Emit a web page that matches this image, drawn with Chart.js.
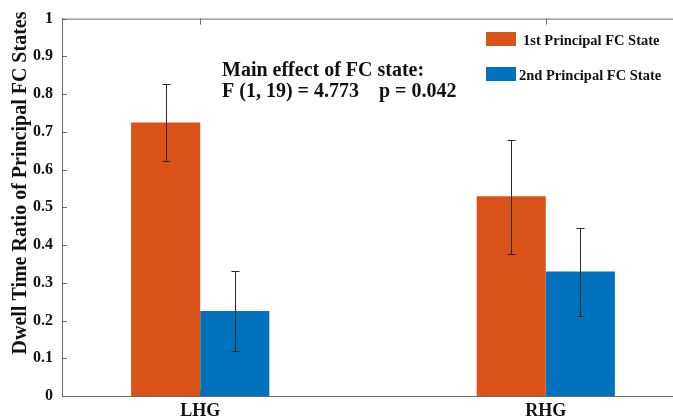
<!DOCTYPE html>
<html>
<head>
<meta charset="utf-8">
<script src="https://cdn.jsdelivr.net/npm/chart.js@4.4.1/dist/chart.umd.min.js"></script>
<style>
  html, body { margin: 0; padding: 0; background: #fff; overflow: hidden; }
  #wrap { position: relative; width: 690px; height: 420px; }
</style>
</head>
<body>
<div id="wrap"><canvas id="chart"></canvas></div>
<script>
// groups along x (MATLAB-style positions 1 and 2, xlim 0.6..2.4)
const groups = ['LHG', 'RHG'];
const groupPos = [1, 2];

const firstState = [0.725, 0.529];
const firstLow = [0.623, 0.377];
const firstHigh = [0.827, 0.678];

const secondState = [0.225, 0.330];
const secondLow = [0.120, 0.212];
const secondHigh = [0.330, 0.445];

const yTicks = [0, 0.1, 0.2, 0.3, 0.4, 0.5, 0.6, 0.7, 0.8, 0.9, 1];

const seriesNames = ['1st Principal FC State', '2nd Principal FC State'];
const seriesColors = ['#D95319', '#0072BD'];
const annotation = ['Main effect of FC state:', 'F (1, 19) = 4.773    p = 0.042'];
const yTitle = 'Dwell Time Ratio of Principal FC States';

const serif = '"Liberation Serif", "Times New Roman", serif';
const axisColor = '#6c6c6c';

const errors = [
  { low: firstLow, high: firstHigh },
  { low: secondLow, high: secondHigh }
];

const toPoints = vals => vals.map((v, i) => ({ x: groupPos[i], y: v }));

// inward ticks, top box line, error bars, legend and text
const decorations = {
  id: 'decorations',
  beforeDatasetsDraw(chart) {
    const { ctx, chartArea, scales } = chart;
    ctx.save();
    ctx.strokeStyle = axisColor;
    ctx.lineWidth = 1;
    ctx.beginPath();
    // top box line
    ctx.moveTo(chartArea.left, chartArea.top + 0.5);
    ctx.lineTo(chartArea.right, chartArea.top + 0.5);
    // y ticks pointing inward
    yTicks.forEach(v => {
      const y = Math.round(scales.y.getPixelForValue(v)) + 0.5;
      ctx.moveTo(chartArea.left, y);
      ctx.lineTo(chartArea.left + 5, y);
    });
    // x ticks on top and bottom, pointing inward
    groupPos.forEach(v => {
      const x = Math.round(scales.x.getPixelForValue(v)) + 0.5;
      ctx.moveTo(x, chartArea.top);
      ctx.lineTo(x, chartArea.top + 6);
      ctx.moveTo(x, chartArea.bottom);
      ctx.lineTo(x, chartArea.bottom - 6);
    });
    ctx.stroke();
    ctx.restore();
  },
  afterDatasetsDraw(chart) {
    const { ctx, scales } = chart;
    ctx.save();
    ctx.strokeStyle = '#2a2a2a';
    ctx.lineWidth = 1;
    errors.forEach((err, di) => {
      const meta = chart.getDatasetMeta(di);
      meta.data.forEach((bar, i) => {
        const x = Math.round(bar.x) + 0.5;
        const yl = Math.round(scales.y.getPixelForValue(err.low[i])) + 0.5;
        const yh = Math.round(scales.y.getPixelForValue(err.high[i])) + 0.5;
        ctx.beginPath();
        ctx.moveTo(x, yl); ctx.lineTo(x, yh);
        ctx.moveTo(x - 4, yl); ctx.lineTo(x + 4, yl);
        ctx.moveTo(x - 4, yh); ctx.lineTo(x + 4, yh);
        ctx.stroke();
      });
    });
    ctx.restore();
  },
  afterDraw(chart) {
    const { ctx } = chart;
    ctx.save();
    ctx.fillStyle = '#111';

    // y axis title
    ctx.save();
    ctx.translate(26, 183);
    ctx.rotate(-Math.PI / 2);
    ctx.font = 'bold 20px ' + serif;
    ctx.textAlign = 'center';
    ctx.textBaseline = 'alphabetic';
    ctx.fillText(yTitle, 0, 0);
    ctx.restore();

    // statistics text
    ctx.font = 'bold 20px ' + serif;
    ctx.textAlign = 'left';
    ctx.textBaseline = 'alphabetic';
    ctx.fillText(annotation[0], 222, 76);
    ctx.fillText(annotation[1], 222, 97);

    // legend
    const rows = [{ y: 32, tx: 523, ty: 45 }, { y: 67, tx: 519, ty: 80 }];
    ctx.font = 'bold 14.5px ' + serif;
    rows.forEach((r, i) => {
      ctx.fillStyle = seriesColors[i];
      ctx.fillRect(486, r.y, 30, 14);
      ctx.fillStyle = '#111';
      ctx.fillText(seriesNames[i], r.tx, r.ty);
    });
    ctx.restore();
  }
};

new Chart(document.getElementById('chart'), {
  type: 'bar',
  data: {
    datasets: [
      {
        label: seriesNames[0],
        data: toPoints(firstState),
        backgroundColor: seriesColors[0],
        borderWidth: 0
      },
      {
        label: seriesNames[1],
        data: toPoints(secondState),
        backgroundColor: seriesColors[1],
        borderWidth: 0
      }
    ]
  },
  options: {
    responsive: true,
    maintainAspectRatio: false,
    animation: false,
    layout: { padding: { top: 14, right: 6, left: 0, bottom: 0 } },
    categoryPercentage: 0.4,
    barPercentage: 1.0,
    scales: {
      x: {
        type: 'linear',
        min: 0.6,
        max: 2.4,
        offset: false,
        afterBuildTicks: scale => { scale.ticks = groupPos.map(v => ({ value: v })); },
        afterFit: scale => { scale.height = 24; },
        grid: { display: false, drawTicks: false },
        border: { display: true, color: axisColor, width: 1 },
        ticks: {
          color: '#111',
          font: { family: serif, size: 18, weight: 'bold' },
          padding: 5,
          maxRotation: 0,
          callback: v => groups[groupPos.indexOf(v)]
        }
      },
      y: {
        min: 0,
        max: 1,
        afterBuildTicks: scale => { scale.ticks = yTicks.map(v => ({ value: v })); },
        afterFit: scale => { scale.width = 62; },
        grid: { display: false, drawTicks: false },
        border: { display: true, color: axisColor, width: 1 },
        ticks: {
          color: '#111',
          font: { family: serif, size: 16, weight: 'bold' },
          padding: 9,
          callback: v => String(Math.round(v * 10) / 10)
        }
      }
    },
    plugins: {
      legend: { display: false },
      tooltip: { enabled: false }
    }
  },
  plugins: [decorations]
});
</script>
</body>
</html>
